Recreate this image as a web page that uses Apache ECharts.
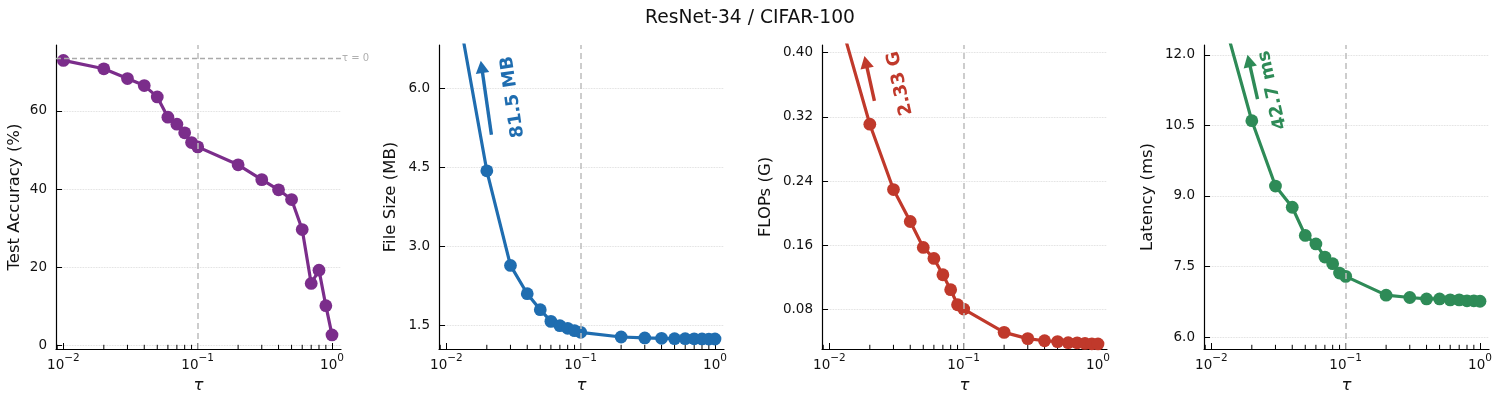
<!DOCTYPE html>
<html><head><meta charset="utf-8">
<script src="https://cdn.jsdelivr.net/npm/echarts@6/dist/echarts.min.js"></script>
<style>html,body{margin:0;padding:0;background:#fff}#c{width:1500px;height:401px}</style>
</head><body><div id="c"></div>
<script>
// ---- data ----
const tau = [0.01,0.02,0.03,0.04,0.05,0.06,0.07,0.08,0.09,0.1,0.2,0.3,0.4,0.5,0.6,0.7,0.8,0.9,1.0];
const accuracy = [72.95,70.8,68.3,66.5,63.6,58.4,56.6,54.4,51.9,50.8,46.2,42.4,39.8,37.3,29.6,15.8,19.2,10.1,2.6];
const fileSize = [8.7,4.435,2.642,2.106,1.803,1.582,1.50,1.45,1.405,1.374,1.285,1.267,1.260,1.254,1.253,1.251,1.249,1.247,1.248];
const flops = [0.487,0.3109,0.2296,0.1898,0.1575,0.1438,0.1235,0.1049,0.0862,0.0808,0.0518,0.0440,0.0414,0.0403,0.0390,0.0388,0.0380,0.0376,0.0374];
const latency = [13.7,10.6,9.21,8.76,8.16,7.98,7.70,7.56,7.36,7.29,6.89,6.84,6.81,6.81,6.79,6.79,6.77,6.77,6.76];
const tauZeroAccuracy = 73.4;
const xMajorTicks = [0.01,0.1,1];
const xMinorTicks = [0.009,0.02,0.03,0.04,0.05,0.06,0.07,0.08,0.09,0.2,0.3,0.4,0.5,0.6,0.7,0.8,0.9];
const accTicks = [0,20,40,60];
const sizeTicks = [1.5,3.0,4.5,6.0];
const flopsTicks = [0.08,0.16,0.24,0.32,0.40];
const latencyTicks = [6.0,7.5,9.0,10.5,12.0];
const annotationTexts = ['81.5 MB','2.33 G','42.7 ms'];

// ---- layout / style ----
const FONT = 'DejaVu Sans';
const XMIN = Math.pow(10,-2.055), XMAX = Math.pow(10,0.067);
const panels = [
  {name:'Test Accuracy (%)', data:accuracy, color:'#7b2d8b', ticks:accTicks, min:-1.0, max:76.9, dec:0, left:56, nameGap:33},
  {name:'File Size (MB)', data:fileSize, color:'#1f6db0', ticks:sizeTicks, min:1.058, max:6.82, dec:1, left:439, nameGap:40,
   ann:{text:annotationTexts[0], tail:[0.02164,5.117], tip:[0.01803,6.523], pos:[0.0312,5.836]}},
  {name:'FLOPs (G)', data:flops, color:'#c0392b', ticks:flopsTicks, min:0.0311, max:0.4095, dec:2, left:822, nameGap:48,
   ann:{text:annotationTexts[1], tail:[0.02164,0.3399], tip:[0.01824,0.3959], pos:[0.03365,0.3619]}},
  {name:'Latency (ms)', data:latency, color:'#2e8b57', ticks:latencyTicks, min:5.745, max:12.21, dec:1, left:1204, nameGap:48,
   ann:{text:annotationTexts[2], tail:[0.02206,11.059], tip:[0.01858,12.0], pos:[0.02855,11.256]}}
];

const grids=[], xAxes=[], yAxes=[], series=[];
panels.forEach((p,i)=>{
  grids.push({left:p.left, top:45, width:285, height:304, containLabel:false});
  xAxes.push({
    type:'log', logBase:10, gridIndex:i, position:'bottom', min:XMIN, max:XMAX,
    axisLine:{show:true, onZero:false, lineStyle:{color:'#000', width:1.2}},
    axisTick:{show:true, inside:true, length:6, customValues:xMajorTicks, lineStyle:{color:'#000', width:1}},
    axisLabel:{show:true, customValues:xMajorTicks, margin:4,
      formatter:v=>{const e=Math.round(Math.log10(v)); return '{b|10}{s|'+(e<0?'\u2212'+(-e):e)+'}';},
      rich:{b:{fontSize:13.5, fontFamily:FONT, color:'#111', verticalAlign:'bottom', lineHeight:19},
            s:{fontSize:10.5, fontFamily:FONT, color:'#111', verticalAlign:'top', lineHeight:19}}},
    splitLine:{show:false}, minorTick:{show:false}, minorSplitLine:{show:false},
    name:'\u03c4', nameLocation:'middle', nameGap:25,
    nameTextStyle:{fontSize:16.5, fontFamily:FONT, fontStyle:'italic', color:'#111'}
  });
  yAxes.push({
    type:'value', gridIndex:i, min:p.min, max:p.max,
    axisLine:{show:true, onZero:false, lineStyle:{color:'#000', width:1.2}},
    axisTick:{show:true, inside:true, length:6, customValues:p.ticks, lineStyle:{color:'#000', width:1}},
    axisLabel:{show:true, customValues:p.ticks, margin:9, formatter:v=>Number(v).toFixed(p.dec),
      fontSize:13.5, fontFamily:FONT, color:'#111'},
    splitLine:{show:true, customValues:p.ticks, lineStyle:{type:'dotted', color:'#d4d4d4', width:0.8}},
    name:p.name, nameLocation:'middle', nameGap:p.nameGap, nameRotate:90,
    nameTextStyle:{fontSize:16.5, fontFamily:FONT, color:'#111'}
  });
  const mlData = [{xAxis:0.1, lineStyle:{color:'#bdbdbd', width:1.5, type:[6,4]}}];
  if (i===0) mlData.push({yAxis:tauZeroAccuracy, lineStyle:{color:'#aaaaaa', width:1.3, type:[5,3]},
     label:{show:true, position:'end', formatter:'\u03c4 = 0', distance:1, color:'#b0b0b0', fontSize:10, fontFamily:FONT}});
  series.push({
    type:'line', xAxisIndex:i, yAxisIndex:i, data:[], z:1, silent:true,
    markLine:{silent:true, symbol:['none','none'], animation:false, label:{show:false}, data:mlData}
  });
  // log minor ticks (2..9 x 10^n), placed on the x axis through the axis scale
  const yBottom = p.min;
  series.push({
    type:'custom', xAxisIndex:i, yAxisIndex:i, z:2, silent:true, clip:false,
    data:xMinorTicks.map(v=>[v, yBottom]),
    renderItem:(params, api)=>{
      const pt = api.coord([api.value(0), api.value(1)]);
      return {type:'line', shape:{x1:pt[0], y1:pt[1], x2:pt[0], y2:pt[1]-4.2},
              style:{stroke:'#000', lineWidth:1}};
    }
  });
  series.push({
    type:'line', xAxisIndex:i, yAxisIndex:i, z:3, clip:true,
    data:tau.map((t,k)=>[t,p.data[k]]),
    symbol:'circle', symbolSize:12.8, showSymbol:true,
    lineStyle:{color:p.color, width:3.2}, itemStyle:{color:p.color}
  });
});

const chart = echarts.init(document.getElementById('c'), null, {renderer:'canvas'});
chart.setOption({
  animation:false, backgroundColor:'#fff',
  title:{text:'ResNet-34 / CIFAR-100', left:'center', top:4,
    textStyle:{fontSize:18.7, fontWeight:'normal', color:'#111', fontFamily:FONT}},
  grid:grids, xAxis:xAxes, yAxis:yAxes, series:series
});

// annotations (arrows + rotated labels), positioned through the axes
const graphics=[];
panels.forEach((p,i)=>{
  if(!p.ann) return;
  const f={xAxisIndex:i, yAxisIndex:i};
  const a=chart.convertToPixel(f,p.ann.tail), b=chart.convertToPixel(f,p.ann.tip), c=chart.convertToPixel(f,p.ann.pos);
  const dx=b[0]-a[0], dy=b[1]-a[1], L=Math.hypot(dx,dy), ux=dx/L, uy=dy/L;
  const hl=12.5, hw=6.8;
  const base=[b[0]-ux*hl, b[1]-uy*hl];
  graphics.push({type:'line', silent:true, z:10, shape:{x1:a[0],y1:a[1],x2:b[0]-ux*(hl-2),y2:b[1]-uy*(hl-2)},
    style:{stroke:p.color, lineWidth:3.4}});
  graphics.push({type:'polygon', silent:true, z:10, shape:{points:[[b[0],b[1]],[base[0]-uy*hw,base[1]+ux*hw],[base[0]+uy*hw,base[1]-ux*hw]]},
    style:{fill:p.color}});
  const ang=Math.atan2(-dy,dx);
  graphics.push({type:'text', silent:true, z:10, x:c[0], y:c[1], rotation:ang,
    style:{text:p.ann.text, fill:p.color, font:'bold 18px "DejaVu Sans"', align:'center', verticalAlign:'middle'}});
});
chart.setOption({graphic:graphics});
</script></body></html>
